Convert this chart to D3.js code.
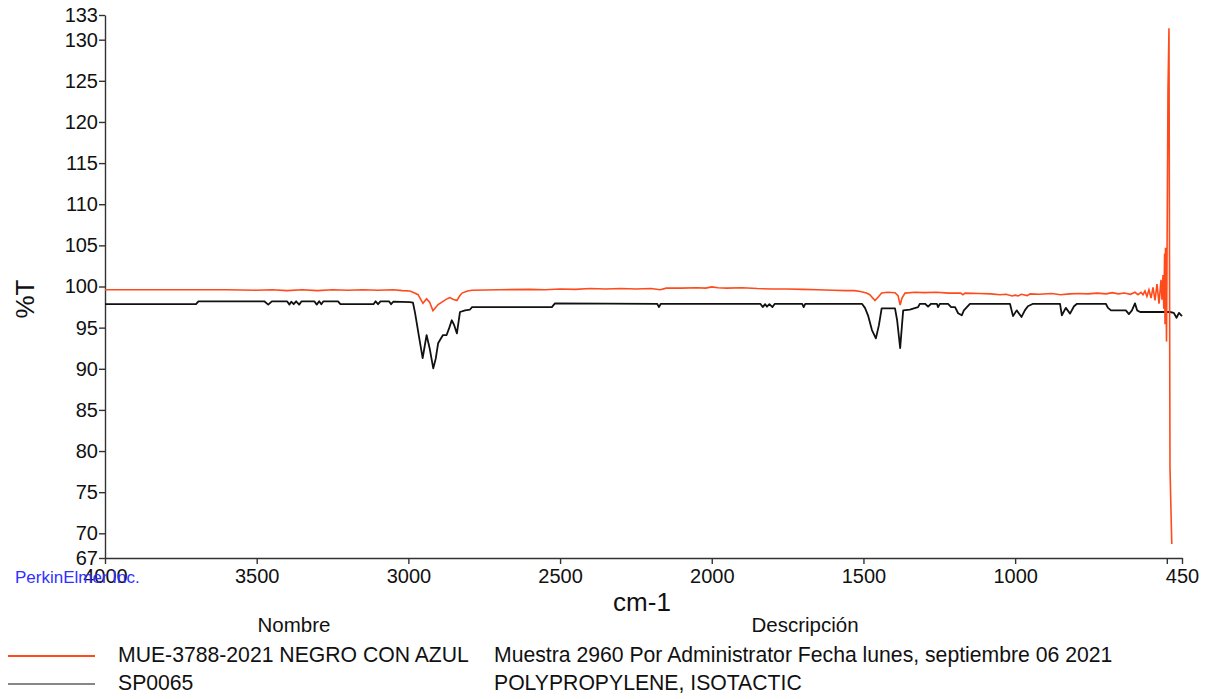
<!DOCTYPE html>
<html>
<head>
<meta charset="utf-8">
<script src="https://cdn.jsdelivr.net/npm/d3@7"></script>
<style>
  body { margin: 0; background: #fff; }
  text { font-family: "Liberation Sans", Arial, sans-serif; }
</style>
</head>
<body>
<div id="chart"></div>
<script>
// wavenumber (cm-1), %T pairs
var mueSpectrum = [
  [4000, 99.6], [3800, 99.6], [3600, 99.6], [3500, 99.55], [3450, 99.6], [3400, 99.5], [3350, 99.6],
  [3300, 99.5], [3250, 99.6], [3200, 99.55], [3150, 99.6], [3100, 99.55], [3050, 99.6], [3020, 99.5],
  [2995, 99.45], [2985, 99.3], [2968, 99.0], [2952, 97.95], [2940, 98.5], [2930, 98.1], [2919, 97.05],
  [2902, 97.8], [2886, 98.2], [2870, 98.55], [2863, 98.65], [2853, 98.45], [2840, 98.3], [2830, 98.9],
  [2823, 99.2], [2805, 99.45], [2790, 99.55], [2700, 99.6], [2600, 99.65], [2550, 99.6], [2500, 99.7],
  [2450, 99.65], [2400, 99.75], [2350, 99.7], [2300, 99.75], [2250, 99.7], [2200, 99.75], [2170, 99.6],
  [2150, 99.8], [2100, 99.8], [2050, 99.85], [2020, 99.8], [2000, 99.95], [1980, 99.85], [1950, 99.8],
  [1900, 99.85], [1850, 99.75], [1800, 99.7], [1750, 99.7], [1700, 99.65], [1650, 99.6], [1600, 99.55],
  [1560, 99.5], [1530, 99.5], [1510, 99.4], [1490, 99.2], [1479, 99.0], [1462, 98.3], [1452, 98.7],
  [1440, 99.2], [1420, 99.3], [1396, 99.25], [1386, 98.9], [1379, 97.75], [1373, 98.6], [1363, 99.2],
  [1330, 99.3], [1300, 99.25], [1260, 99.3], [1220, 99.2], [1180, 99.2], [1172, 99.0], [1165, 99.2],
  [1120, 99.15], [1080, 99.1], [1050, 99.0], [1030, 99.05], [1010, 98.85], [1000, 98.95], [990, 98.85],
  [980, 99.05], [960, 98.9], [950, 99.1], [920, 99.05], [880, 99.15], [850, 99.0], [820, 99.1],
  [790, 99.15], [760, 99.1], [730, 99.2], [700, 99.1], [680, 99.25], [660, 99.1], [640, 99.2],
  [620, 99.05], [605, 99.3], [595, 99.0], [585, 99.3], [578.6, 99.0], [572, 99.45], [565.5, 98.8],
  [559, 99.6], [552, 98.6], [545.6, 99.9], [539, 98.3], [532.4, 100.3], [525.8, 97.9], [519.2, 100.8],
  [516, 98.4], [512.6, 101.4], [510, 97.3], [507.3, 104.0], [506, 95.4], [504.4, 104.7], [501, 93.3],
  [496.2, 123.9], [492.9, 131.4], [489.6, 78.0], [483.7, 68.7]
];

var refSpectrum = [
  [4000, 97.85], [3700, 97.85], [3692, 98.2], [3475, 98.2], [3462, 97.8], [3450, 98.2], [3400, 98.2],
  [3392, 97.8], [3386, 98.15], [3378, 97.85], [3370, 98.2], [3360, 97.8], [3352, 98.2], [3310, 98.2],
  [3302, 97.8], [3294, 98.2], [3287, 97.85], [3280, 98.2], [3232, 98.2], [3224, 97.85], [3115, 97.85],
  [3108, 98.2], [3100, 97.85], [3092, 98.2], [3064, 98.2], [3057, 97.85], [3050, 98.15], [2995, 98.1],
  [2985, 98.05], [2978, 96.8], [2965, 93.9], [2953, 91.3], [2946, 92.8], [2940, 94.1], [2930, 92.5],
  [2918, 90.05], [2910, 91.2], [2902, 93.1], [2886, 94.1], [2874, 94.1], [2865, 95.0], [2857, 95.9],
  [2849, 95.3], [2840, 94.3], [2830, 96.9], [2813, 97.1], [2797, 97.2], [2790, 97.5], [2527, 97.5],
  [2517, 97.95], [2180, 97.9], [2174, 97.5], [2168, 97.9], [1840, 97.9], [1832, 97.5], [1824, 97.85],
  [1818, 97.55], [1810, 97.85], [1800, 97.5], [1792, 97.9], [1702, 97.9], [1697, 97.5], [1692, 97.9],
  [1505, 97.9], [1495, 97.4], [1485, 96.5], [1472, 94.7], [1459, 93.7], [1449, 95.3], [1440, 97.35],
  [1396, 97.35], [1389, 95.9], [1379, 92.5], [1373, 95.3], [1369, 97.1], [1347, 97.2], [1320, 97.5],
  [1314, 97.9], [1297, 97.9], [1287, 97.55], [1277, 97.9], [1258, 97.9], [1254, 97.5], [1248, 97.9],
  [1221, 97.9], [1211, 97.5], [1198, 97.5], [1188, 96.75], [1176, 96.5], [1169, 97.1], [1159, 97.5],
  [1149, 97.9], [1017, 97.9], [1007, 96.4], [995, 97.1], [979, 96.3], [968, 97.1], [958, 97.6],
  [941, 97.9], [852, 97.9], [846, 96.5], [833, 97.4], [819, 96.7], [806, 97.6], [796, 97.9],
  [701, 97.9], [694, 97.4], [684, 97.1], [635, 97.1], [625, 96.65], [615, 97.1], [605, 97.95],
  [598, 97.1], [588, 96.9], [490, 96.9], [477, 96.8], [468, 96.2], [460, 96.8], [450, 96.4]
];

var xTicks = [4000, 3500, 3000, 2500, 2000, 1500, 1000, 500, 450];
var xLabels = ["4000", "3500", "3000", "2500", "2000", "1500", "1000", "", "450"];
var yTicks = [67, 70, 75, 80, 85, 90, 95, 100, 105, 110, 115, 120, 125, 130, 133];

var seriesNames = ["MUE-3788-2021 NEGRO CON AZUL", "SP0065"];
var seriesDesc = ["Muestra 2960 Por Administrator Fecha lunes, septiembre 06 2021", "POLYPROPYLENE, ISOTACTIC"];
var seriesColors = ["#ff4a1c", "#111111"];

var width = 1209,
  height = 699;

var svg = d3.select("#chart")
  .append("svg")
  .attr("width", width)
  .attr("height", height)

var x = d3.scaleLinear().domain([4000, 450]).range([105, 1182])
var y = d3.scaleLinear().domain([67, 133]).range([558, 15])

var xAxis = svg.append("g")
  .attr("transform", "translate(0,558)")
  .call(d3.axisBottom(x)
    .tickValues(xTicks)
    .tickFormat(function(d, i) { return xLabels[i] })
    .tickSize(6)
    .tickPadding(5)
    .tickSizeOuter(0))

var yAxis = svg.append("g")
  .attr("transform", "translate(105,0)")
  .call(d3.axisLeft(y)
    .tickValues(yTicks)
    .tickSize(6)
    .tickPadding(1)
    .tickSizeOuter(0))

svg.selectAll(".domain, .tick line")
  .attr("stroke", "#333")
  .attr("stroke-width", 1.4)

svg.selectAll(".tick text")
  .attr("fill", "#111")
  .style("font-size", "20px")

var line = d3.line()
  .x(function(d) { return x(d[0]) })
  .y(function(d) { return y(d[1]) })

svg.append("path")
  .datum(refSpectrum)
  .attr("fill", "none")
  .attr("stroke", seriesColors[1])
  .attr("stroke-width", 1.8)
  .attr("stroke-linejoin", "round")
  .attr("d", line)

svg.append("path")
  .datum(mueSpectrum)
  .attr("fill", "none")
  .attr("stroke", seriesColors[0])
  .attr("stroke-width", 1.6)
  .attr("d", line)

// axis titles
svg.append("text")
  .attr("x", 642)
  .attr("y", 611)
  .attr("text-anchor", "middle")
  .style("font-size", "26px")
  .attr("fill", "#111")
  .text("cm-1")

svg.append("text")
  .attr("transform", "translate(34,299) rotate(-90)")
  .attr("text-anchor", "middle")
  .style("font-size", "26px")
  .attr("fill", "#111")
  .text("%T")

// vendor mark sits on top of the first tick label, as in the original
svg.append("text")
  .attr("x", 15)
  .attr("y", 583)
  .style("font-size", "17px")
  .attr("fill", "#3030ff")
  .text("PerkinElmer Inc.")

// legend table
svg.append("text")
  .attr("x", 294)
  .attr("y", 632)
  .attr("text-anchor", "middle")
  .style("font-size", "20.5px")
  .attr("fill", "#111")
  .text("Nombre")

svg.append("text")
  .attr("x", 805)
  .attr("y", 632)
  .attr("text-anchor", "middle")
  .style("font-size", "20.5px")
  .attr("fill", "#111")
  .text("Descripción")

var rows = svg.selectAll(".legend-row")
  .data(seriesNames)
  .enter().append("g")
  .attr("class", "legend-row")
  .attr("transform", function(d, i) { return "translate(0," + (662 + i * 28) + ")" })

rows.append("line")
  .attr("x1", 8)
  .attr("x2", 95)
  .attr("y1", -6)
  .attr("y2", -6)
  .attr("stroke", function(d, i) { return seriesColors[i] })
  .attr("stroke-width", function(d, i) { return i == 0 ? 2 : 1.2 })

rows.append("text")
  .attr("x", 118)
  .style("font-size", "21.2px")
  .attr("fill", "#111")
  .text(function(d) { return d })

rows.append("text")
  .attr("x", 494)
  .style("font-size", "21.2px")
  .attr("fill", "#111")
  .text(function(d, i) { return seriesDesc[i] })
</script>
</body>
</html>
